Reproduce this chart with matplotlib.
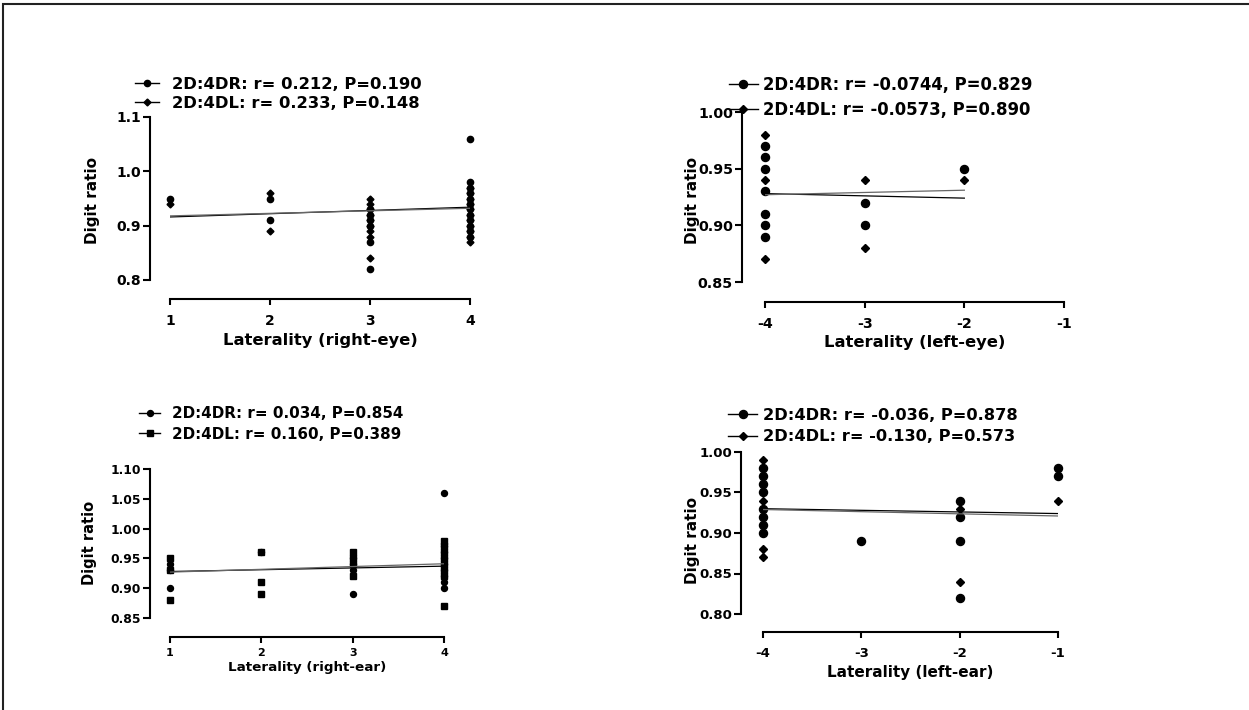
import numpy as np
import matplotlib.pyplot as plt
from matplotlib.lines import Line2D
from matplotlib.patches import Rectangle

plt.rcParams['font.family'] = ['DejaVu Sans']
plt.rcParams['font.weight'] = 'bold'
plt.rcParams['axes.unicode_minus'] = False

W, H = 1249, 710

# ---- right eye (top left) ----
re_R = {1: [0.95], 2: [0.95, 0.91], 3: [0.93, 0.92, 0.91, 0.90, 0.87, 0.82],
        4: [1.06, 0.98, 0.97, 0.96, 0.95, 0.94, 0.93, 0.92, 0.91, 0.90, 0.89, 0.88]}
re_L = {1: [0.94], 2: [0.96, 0.89], 3: [0.95, 0.94, 0.93, 0.92, 0.91, 0.90, 0.89, 0.88, 0.84],
        4: [0.97, 0.96, 0.95, 0.94, 0.93, 0.92, 0.91, 0.90, 0.89, 0.88, 0.87]}
re_fit_x = [1, 4]
re_fit_R = [0.916, 0.934]
re_fit_L = [0.918, 0.932]
re_labels = ["2D:4DR: r= 0.212, P=0.190", "2D:4DL: r= 0.233, P=0.148"]

# ---- left eye (top right) ----
le_R = {-4: [0.97, 0.96, 0.95, 0.93, 0.91, 0.90, 0.89], -3: [0.92, 0.90], -2: [0.95]}
le_L = {-4: [0.98, 0.94, 0.93, 0.87], -3: [0.94, 0.88], -2: [0.94]}
le_fit_x = [-4, -2]
le_fit_R = [0.928, 0.924]
le_fit_L = [0.927, 0.931]
le_labels = ["2D:4DR: r= -0.0744, P=0.829", "2D:4DL: r= -0.0573, P=0.890"]

# ---- right ear (bottom left) ----
rr_R = {1: [0.94, 0.93, 0.90], 2: [0.96], 3: [0.95, 0.94, 0.93, 0.89],
        4: [1.06, 0.97, 0.96, 0.95, 0.94, 0.93, 0.92, 0.91, 0.90]}
rr_L = {1: [0.95, 0.93, 0.88], 2: [0.96, 0.91, 0.89], 3: [0.96, 0.95, 0.94, 0.92],
        4: [0.98, 0.97, 0.96, 0.95, 0.94, 0.93, 0.92, 0.87]}
rr_fit_x = [1, 4]
rr_fit_R = [0.928, 0.937]
rr_fit_L = [0.927, 0.941]
rr_labels = ["2D:4DR: r= 0.034, P=0.854", "2D:4DL: r= 0.160, P=0.389"]

# ---- left ear (bottom right) ----
lr_R = {-4: [0.98, 0.97, 0.96, 0.95, 0.93, 0.92, 0.91, 0.90], -3: [0.89],
        -2: [0.94, 0.92, 0.89, 0.82], -1: [0.98, 0.97]}
lr_L = {-4: [0.99, 0.94, 0.88, 0.87], -2: [0.93, 0.84], -1: [0.94]}
lr_fit_x = [-4, -1]
lr_fit_R = [0.930, 0.924]
lr_fit_L = [0.929, 0.921]
lr_labels = ["2D:4DR: r= -0.036, P=0.878", "2D:4DL: r= -0.130, P=0.573"]


def expand(d):
    xs, ys = [], []
    for k, v in d.items():
        xs += [k] * len(v)
        ys += v
    return xs, ys


def panel(box, xlim, ylim, yticks, yfmt, R, L, fit_x, fitR, fitL, labels, xlabel,
          mkL, msR, msL, off, fs, leg, ylab, xlab_y, xpad=6):
    x0, y0, x1, y1 = box
    ax = fig.add_axes([x0 / W, 1 - y1 / H, (x1 - x0) / W, (y1 - y0) / H])
    ax.patch.set_visible(False)
    ax.set_xlim(xlim)
    ax.set_ylim(ylim)
    for s in ['top', 'right']:
        ax.spines[s].set_visible(False)
    ax.spines['left'].set_position(('outward', off[0] * 72 / 100))
    ax.spines['bottom'].set_position(('outward', off[1] * 72 / 100))
    ax.spines['left'].set_bounds(ylim)
    ax.spines['bottom'].set_bounds(xlim)
    for s in ['left', 'bottom']:
        ax.spines[s].set_linewidth(1.5)
    ax.set_xticks(range(xlim[0], xlim[1] + 1))
    ax.set_yticks(yticks)
    ax.set_yticklabels([yfmt.format(v) for v in yticks])
    ax.tick_params(axis='y', direction='out', length=5, width=1.5, pad=1.5, labelsize=fs['tick'])
    ax.tick_params(axis='x', direction='out', length=4.5, width=1.5, pad=xpad,
                   labelsize=fs.get('xtick', fs['tick']))

    lx, ly = expand(L)
    rx, ry = expand(R)
    ax.plot(lx, ly, ls='none', marker=mkL, ms=msL, color='k', clip_on=False)
    ax.plot(rx, ry, ls='none', marker='o', ms=msR, color='k', clip_on=False)
    ax.plot(fit_x, fitR, color='k', lw=0.9)
    ax.plot(fit_x, fitL, color='#666666', lw=0.9)

    handles = [Line2D([], [], color='k', lw=1, marker='o', ms=msR),
               Line2D([], [], color='k', lw=1, marker=mkL, ms=msL)]
    ax.legend(handles, labels, loc='center left', bbox_to_anchor=(leg['x'] / W, 1 - leg['y'] / H),
              bbox_transform=fig.transFigure, frameon=False, fontsize=fs['leg'],
              handlelength=leg['hl'], handletextpad=leg['tp'], labelspacing=leg['ls'],
              borderpad=0, borderaxespad=0)

    ax.set_xlabel(xlabel, fontsize=fs['xlab'], fontweight='bold')
    ax.xaxis.set_label_coords((x0 + x1) / 2 / W, 1 - xlab_y / H, transform=fig.transFigure)
    ax.set_ylabel('Digit ratio', fontsize=fs['ylab'], fontweight='bold')
    ax.yaxis.set_label_coords(ylab[0] / W, 1 - ylab[1] / H, transform=fig.transFigure)
    return ax


fig = plt.figure(figsize=(W / 100, H / 100), dpi=100)

panel((170, 117, 470, 280), (1, 4), (0.8, 1.1), [0.8, 0.9, 1.0, 1.1], '{:.1f}',
      re_R, re_L, re_fit_x, re_fit_R, re_fit_L, re_labels, 'Laterality (right-eye)',
      'D', 4.5, 3.5, (20, 19), {'tick': 10, 'leg': 11.8, 'xlab': 11.8, 'ylab': 11},
      {'x': 135, 'y': 94, 'hl': 1.45, 'tp': 0.8, 'ls': 0.22}, (100, 200), 333)

panel((765, 112, 1064, 282), (-4, -1), (0.85, 1.0), [0.85, 0.90, 0.95, 1.00], '{:.2f}',
      le_R, le_L, le_fit_x, le_fit_R, le_fit_L, le_labels, 'Laterality (left-eye)',
      'D', 5.8, 3.8, (23, 20), {'tick': 10.3, 'leg': 11.9, 'xlab': 11.8, 'ylab': 11},
      {'x': 729, 'y': 97.5, 'hl': 1.75, 'tp': 0.3, 'ls': 0.45}, (700, 200), 335)

panel((170, 469, 444, 618), (1, 4), (0.85, 1.10), [0.85, 0.90, 0.95, 1.00, 1.05, 1.10], '{:.2f}',
      rr_R, rr_L, rr_fit_x, rr_fit_R, rr_fit_L, rr_labels, 'Laterality (right-ear)',
      's', 4.3, 4.3, (20, 19), {'tick': 8.9, 'xtick': 8, 'leg': 10.9, 'xlab': 9.7, 'ylab': 10.5},
      {'x': 139, 'y': 424, 'hl': 1.4, 'tp': 0.8, 'ls': 0.35}, (97, 543), 661, xpad=3.5)

panel((763, 452, 1058, 614), (-4, -1), (0.80, 1.00), [0.80, 0.85, 0.90, 0.95, 1.00], '{:.2f}',
      lr_R, lr_L, lr_fit_x, lr_fit_R, lr_fit_L, lr_labels, 'Laterality (left-ear)',
      'D', 5.8, 3.8, (22, 18), {'tick': 9.5, 'leg': 11.7, 'xlab': 11, 'ylab': 11},
      {'x': 728, 'y': 426, 'hl': 1.8, 'tp': 0.37, 'ls': 0.4}, (700, 540), 665)

# page frame (only top and left edges fall inside the image)
fig.add_artist(Rectangle((3 / W, -0.5), 2, 1.5 - 4 / H, transform=fig.transFigure,
                         fill=False, lw=1.5, edgecolor='#222222'))

fig.savefig('out.png', dpi=100)
